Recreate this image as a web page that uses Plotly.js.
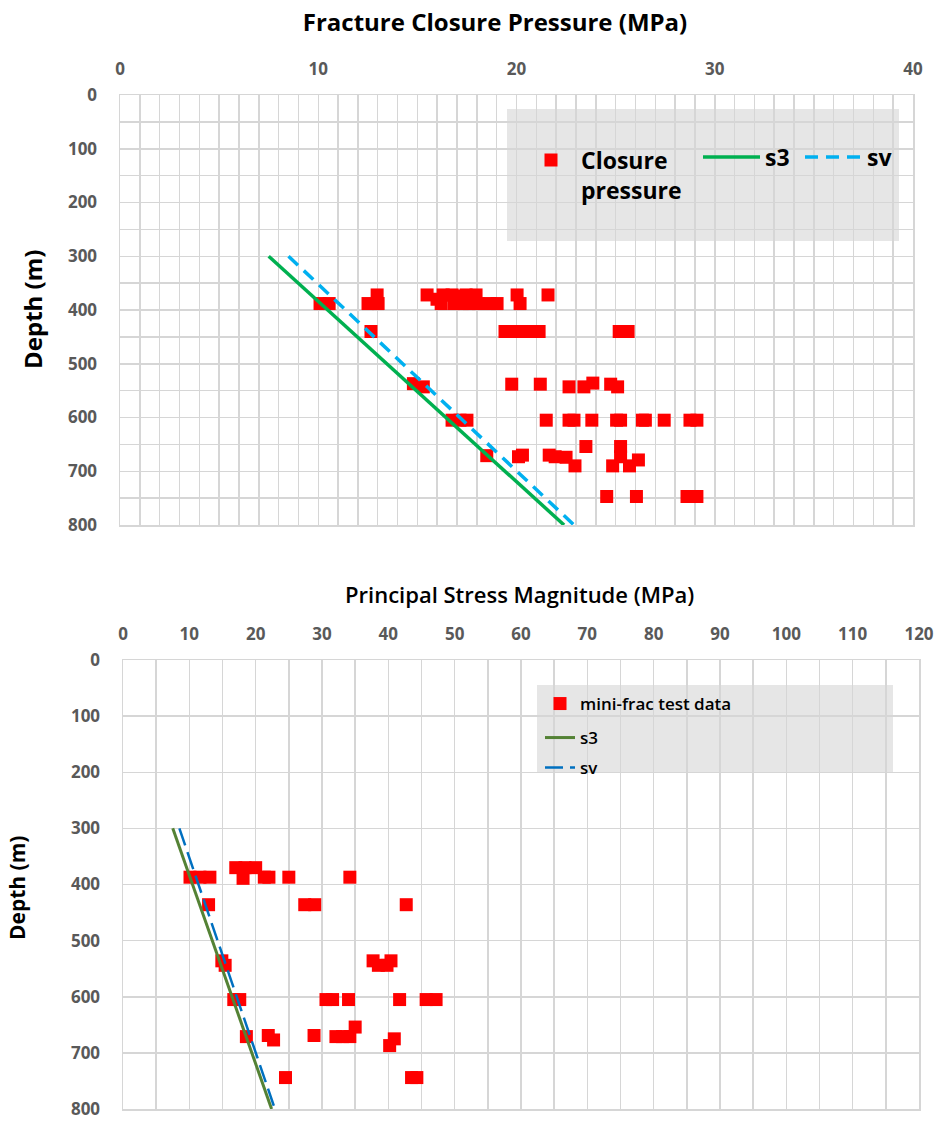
<!DOCTYPE html>
<html>
<head>
<meta charset="utf-8">
<script src="https://cdn.plot.ly/plotly-3.0.1.min.js"></script>
<style>html,body{margin:0;padding:0;background:#fff;}#chart{width:940px;height:1122px;}</style>
</head>
<body>
<div id="chart"></div>
<script>
// ---------- Top chart: Fracture Closure Pressure ----------
const closureP = [
  12.97, 15.49, 15.99, 16.30, 16.75, 17.05, 17.46, 17.96, 20.03, 21.59,
  10.09, 10.55, 12.51, 13.02, 16.20, 16.85, 17.26, 17.61, 18.06, 18.67, 19.02, 20.18,
  12.66, 19.42, 19.98, 20.23, 20.74, 21.14, 25.18, 25.63,
  14.8, 15.3, 19.76, 21.2, 22.65, 23.4, 23.85, 24.75, 25.1,
  16.75, 17.15, 17.5, 21.5, 22.65, 22.9, 23.8, 25.05, 25.25, 26.35, 26.5, 27.45, 28.75, 29.1,
  23.5, 25.25,
  18.5, 20.1, 20.3, 21.65, 21.95, 22.5, 22.95, 24.85, 25.7, 26.15, 25.25,
  24.55, 26.05, 28.6, 29.1
];
const closureDepth = [
  372, 372, 380, 372, 372, 374, 372, 372, 372, 372,
  388, 388, 388, 388, 388, 388, 388, 388, 388, 388, 388, 388,
  440, 440, 440, 440, 440, 440, 440, 440,
  537, 543, 538, 538, 543, 543, 536, 538, 543,
  605, 605, 605, 605, 605, 605, 605, 605, 605, 605, 605, 605, 605, 605,
  654, 654,
  671, 673, 670, 670, 673, 674, 690, 690, 690, 679, 673,
  747, 747, 747, 747
];

// ---------- Bottom chart: Principal Stress Magnitude ----------
const miniFracP = [
  17.0, 18.4, 20.0,
  10.1, 11.6, 13.1, 18.1, 21.3, 22.0, 25.0, 34.2,
  12.9, 27.4, 28.9, 42.7,
  14.9, 37.7, 40.4, 15.4, 38.5, 39.8,
  16.7, 17.6, 30.6, 31.6, 34.0, 41.7, 45.7, 47.2,
  35.0,
  18.6, 21.9, 22.7, 28.8, 32.1, 33.1, 34.2, 40.9, 40.2,
  24.5, 43.5, 44.3
];
const miniFracDepth = [
  370, 370, 370,
  387, 387, 387, 389, 387, 387, 387, 387,
  436, 436, 436, 436,
  536, 536, 536, 544, 544, 544,
  605, 605, 605, 605, 605, 605, 605, 605,
  654,
  671, 669, 677, 669, 671, 671, 671, 675, 687,
  744, 744, 744
];

// ---------- Stress gradient lines (both charts) ----------
const lineDepth = [300, 800];
const s3P = [7.5, 22.4];
const svP = [8.5, 22.9];

// ---------- Axis ticks ----------
const topTicks = [0, 10, 20, 30, 40];
const bottomTicks = [0, 10, 20, 30, 40, 50, 60, 70, 80, 90, 100, 110, 120];
const depthTicks = [0, 100, 200, 300, 400, 500, 600, 700, 800];

const W = 940, H = 1122;
const px = x => x / W;
const py = y => 1 - y / H;

const FONT = '"Open Sans", "Noto Sans", sans-serif';
const grid = '#d6d6d6';
const tickFont = {family: FONT, size: 17, color: '#595959', weight: 700};

const traces = [
  {x: closureP, y: closureDepth, type: 'scatter', mode: 'markers', name: 'Closure<br>pressure',
   marker: {symbol: 'square', size: 13, color: '#FF0000'}, xaxis: 'x', yaxis: 'y', legend: 'legend'},
  {x: s3P, y: lineDepth, type: 'scatter', mode: 'lines', name: 's3',
   line: {color: '#00B050', width: 3.5}, xaxis: 'x', yaxis: 'y', legend: 'legend3'},
  {x: svP, y: lineDepth, type: 'scatter', mode: 'lines', name: 'sv',
   line: {color: '#00B0F0', width: 3.5, dash: '13px,8px'}, xaxis: 'x', yaxis: 'y', legend: 'legend4'},
  {x: miniFracP, y: miniFracDepth, type: 'scatter', mode: 'markers', name: 'mini-frac test data',
   marker: {symbol: 'square', size: 13, color: '#FF0000'}, xaxis: 'x2', yaxis: 'y2', legend: 'legend2'},
  {x: s3P, y: lineDepth, type: 'scatter', mode: 'lines', name: 's3',
   line: {color: '#548235', width: 3}, xaxis: 'x2', yaxis: 'y2', legend: 'legend5'},
  {x: svP, y: lineDepth, type: 'scatter', mode: 'lines', name: 'sv',
   line: {color: '#0070C0', width: 2.5, dash: '18px,7px'}, xaxis: 'x2', yaxis: 'y2', legend: 'legend6'}
];

function xAxis(domain, ticks, minorDtick) {
  return {
    domain: domain, range: [ticks[0], ticks[ticks.length - 1]], side: 'top',
    tickmode: 'linear', tick0: ticks[0], dtick: ticks[1] - ticks[0],
    showgrid: true, gridcolor: grid, gridwidth: 1.5,
    minor: {tickmode: 'linear', tick0: ticks[0], dtick: minorDtick, showgrid: true, gridcolor: grid, gridwidth: 1.5},
    showline: true, linecolor: grid, linewidth: 1.5, mirror: true,
    zeroline: false, ticks: '', ticklabelstandoff: 12, tickfont: tickFont,
    ticklabeloverflow: 'allow', fixedrange: true
  };
}
function yAxis(domain, minorDtick) {
  const a = {
    domain: domain, range: [depthTicks[depthTicks.length - 1], depthTicks[0]],
    tickmode: 'linear', tick0: depthTicks[0], dtick: depthTicks[1] - depthTicks[0],
    showgrid: true, gridcolor: grid, gridwidth: 1.5,
    showline: true, linecolor: grid, linewidth: 1.5, mirror: true,
    zeroline: false, ticks: '', ticklabelstandoff: 18, tickfont: tickFont,
    ticklabeloverflow: 'allow', fixedrange: true
  };
  if (minorDtick) a.minor = {tickmode: 'linear', tick0: depthTicks[0], dtick: minorDtick, showgrid: true, gridcolor: grid, gridwidth: 1.5};
  return a;
}

const topLegFont = {family: FONT, size: 23, color: '#000000', weight: 700};
const botLegFont = {family: FONT, size: 17, color: '#000000', weight: 600};
function leg(x, y, font, itemwidth) {
  return {orientation: 'v', x: px(x), xanchor: 'left', y: py(y), yanchor: 'middle',
          bgcolor: 'rgba(0,0,0,0)', borderwidth: 0, valign: 'top', itemwidth: itemwidth, font: font};
}

const layout = {
  width: W, height: H,
  margin: {l: 0, r: 0, t: 0, b: 0},
  paper_bgcolor: '#ffffff', plot_bgcolor: '#ffffff',
  font: {family: FONT},
  title: {text: 'Fracture Closure Pressure (MPa)', x: px(495), xanchor: 'center', xref: 'paper',
          y: py(23), yanchor: 'middle', yref: 'paper',
          font: {family: FONT, size: 24, color: '#000000', weight: 700}},
  xaxis: xAxis([px(120), px(913)], topTicks, 1),
  yaxis: yAxis([py(525), py(95)], 50),
  xaxis2: Object.assign(xAxis([px(123), px(919)], bottomTicks, 5), {anchor: 'y2'}),
  yaxis2: Object.assign(yAxis([py(1109), py(660)], null), {anchor: 'x2'}),
  showlegend: true,
  legend: leg(521, 175, topLegFont, 50),
  legend3: leg(698, 157, topLegFont, 57),
  legend4: leg(800, 157, topLegFont, 57),
  legend2: leg(540, 704, botLegFont, 30),
  legend5: leg(540, 738, botLegFont, 30),
  legend6: leg(540, 768, botLegFont, 30),
  shapes: [
    {type: 'rect', xref: 'paper', yref: 'paper', x0: px(507), x1: px(899), y0: py(241), y1: py(109),
     fillcolor: '#E6E6E6', line: {width: 0}, layer: 'below'},
    {type: 'rect', xref: 'paper', yref: 'paper', x0: px(537), x1: px(893), y0: py(773), y1: py(685),
     fillcolor: '#E6E6E6', line: {width: 0}, layer: 'below'}
  ],
  annotations: [
    {text: 'Depth (m)', xref: 'paper', yref: 'paper', x: px(32), y: py(310), xanchor: 'center', yanchor: 'middle',
     textangle: -90, showarrow: false, font: {family: FONT, size: 24, color: '#000000', weight: 700}},
    {text: 'Principal Stress Magnitude (MPa)', xref: 'paper', yref: 'paper', x: px(519), y: py(594),
     xanchor: 'center', yanchor: 'middle', showarrow: false,
     font: {family: FONT, size: 22, color: '#000000', weight: 600}},
    {text: 'Depth (m)', xref: 'paper', yref: 'paper', x: px(17), y: py(888), xanchor: 'center', yanchor: 'middle',
     textangle: -90, showarrow: false, font: {family: FONT, size: 21, color: '#000000', weight: 700}}
  ]
};

Plotly.newPlot('chart', traces, layout, {displayModeBar: false, staticPlot: true});
</script>
</body>
</html>
